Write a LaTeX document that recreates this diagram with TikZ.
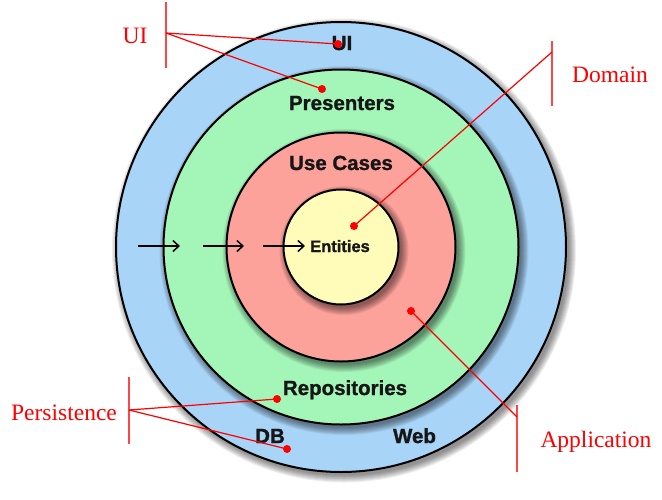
\documentclass[tikz,border=0pt]{standalone}
\usepackage{fontspec}
\setmainfont{Liberation Serif}
\newfontfamily\ringfont{Liberation Sans}[BoldFeatures={FakeBold=1.2}]
\usetikzlibrary{arrows.meta}

\definecolor{ringblue}{RGB}{168,212,247}
\definecolor{ringgreen}{RGB}{164,245,184}
\definecolor{ringred}{RGB}{253,161,155}
\definecolor{ringyellow}{RGB}{255,252,186}
\definecolor{notered}{RGB}{255,0,0}
\definecolor{barred}{RGB}{255,70,70}
\definecolor{inktext}{RGB}{22,22,22}

% soft shadow below and to the right of a ring of the given radius (pt)
\newcommand\ringshadow[1]{%
  \foreach \k in {0,...,7}{%
    \fill[black,opacity=0.065] ([shift={(3,3.5)}]c) circle[radius={#1pt+(7-\k)*1pt}];}}

\begin{document}
\begin{tikzpicture}[x=1pt,y=-1pt,
  ring/.style={circle, draw=black, line width=2pt, inner sep=0pt},
  ringlabel/.style={font=\ringfont\bfseries\fontsize{20.5}{21}\selectfont, text=inktext, anchor=base, inner sep=0pt},
  note/.style={font=\fontsize{23.5}{24}\selectfont, text=notered, anchor=base, inner sep=0pt},
  bar/.style={draw=barred, line width=1.8pt},
  leader/.style={draw=notered, line width=1.2pt},
  dot/.style={fill=notered, circle, inner sep=0pt, minimum size=8pt},
  flow/.style={-{Straight Barb[length=6pt,width=11pt,line width=1.5pt]}, line width=1.5pt}
]
\useasboundingbox (0,0) rectangle (662,499);
\coordinate (c) at (341,247);

% concentric layers
\ringshadow{225}
\node[ring, fill=ringblue, minimum size=450pt] (outer) at (c) {};
\ringshadow{177.5}
\node[ring, fill=ringgreen, minimum size=355pt] (adapters) at (c) {};
\ringshadow{114.5}
\node[ring, fill=ringred, minimum size=229pt] (usecases) at (c) {};
\ringshadow{57.5}
\node[ring, fill=ringyellow, minimum size=115pt] (entities) at (c) {};

% layer names
\node[ringlabel] (lblUI) at (342,50) {UI};
\node[ringlabel] (lblPres) at (342,110) {Presenters};
\node[ringlabel] (lblUC) at (341,170) {Use Cases};
\node[ringlabel, font=\ringfont\bfseries\fontsize{16.5}{17}\selectfont] (lblEnt) at (340,252) {Entities};
\node[ringlabel] (lblRepo) at (345,395) {Repositories};
\node[ringlabel] (lblDB) at (270,443) {DB};
\node[ringlabel] (lblWeb) at (414.5,443) {Web};

% dependency direction
\coordinate (a1s) at (138,246); \coordinate (a1e) at (180,246);
\coordinate (a2s) at (203,246); \coordinate (a2e) at (244,246);
\coordinate (a3s) at (263,246); \coordinate (a3e) at (305,246);
\draw[flow] (a1s) -- (a1e);
\draw[flow] (a2s) -- (a2e);
\draw[flow] (a3s) -- (a3e);

% annotation: UI
\node[note] (noteUI) at (135,43) {UI};
\coordinate (uiTop) at (166,2); \coordinate (uiBot) at (166,68); \coordinate (uiHub) at (166,33);
\node[dot] (uiDotA) at (338,44) {};
\node[dot] (uiDotB) at (322,89) {};
\draw[bar] (uiTop) -- (uiBot);
\draw[leader] (uiHub) -- (uiDotA.center);
\draw[leader] (uiHub) -- (uiDotB.center);

% annotation: Domain
\node[note] (noteDom) at (610,82) {Domain};
\coordinate (domTop) at (552,41); \coordinate (domBot) at (552,106); \coordinate (domHub) at (552,52);
\node[dot] (domDot) at (354,226) {};
\draw[bar] (domTop) -- (domBot);
\draw[leader] (domHub) -- (domDot.center);

% annotation: Persistence
\node[note] (notePer) at (64,420) {Persistence};
\coordinate (perTop) at (129,377); \coordinate (perBot) at (129,444); \coordinate (perHub) at (129,410);
\node[dot] (perDotA) at (277,399) {};
\node[dot] (perDotB) at (287,449) {};
\draw[bar] (perTop) -- (perBot);
\draw[leader] (perHub) -- (perDotA.center);
\draw[leader] (perHub) -- (perDotB.center);

% annotation: Application
\node[note] (noteApp) at (596,447) {Application};
\coordinate (appTop) at (517,405); \coordinate (appBot) at (517,472); \coordinate (appHub) at (517,417);
\node[dot] (appDot) at (411,311) {};
\draw[bar] (appTop) -- (appBot);
\draw[leader] (appHub) -- (appDot.center);
\end{tikzpicture}
\end{document}
